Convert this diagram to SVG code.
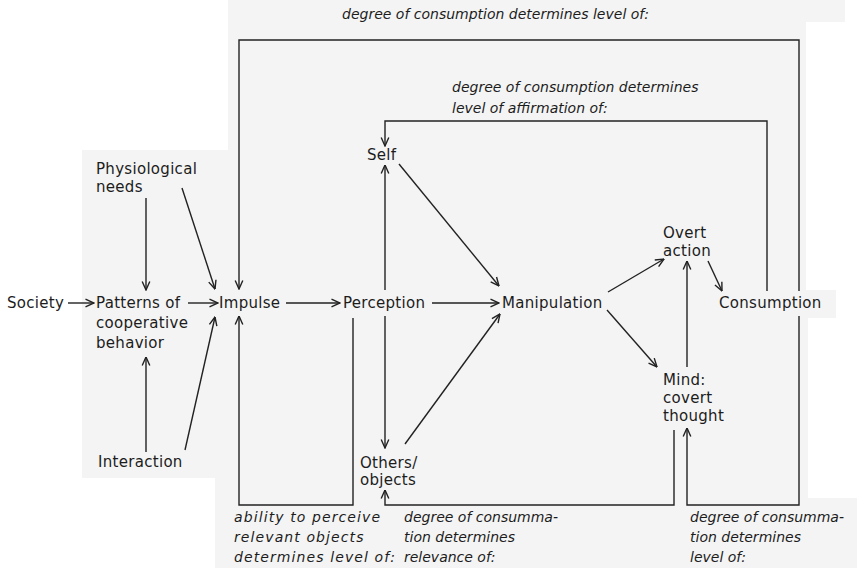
<svg xmlns="http://www.w3.org/2000/svg" width="857" height="568" viewBox="0 0 857 568">
  <defs>
    <marker id="ah" viewBox="0 0 10 10" refX="9.5" refY="5" markerWidth="10" markerHeight="10" markerUnits="userSpaceOnUse" orient="auto">
      <path d="M1,1.2 L9.5,5 L1,8.8" fill="none" stroke="#222" stroke-width="1.4"/>
    </marker>
    <style>
      .node text { font-family: "DejaVu Sans", "Liberation Sans", sans-serif; font-size: 15px; fill: #1c1c1c; letter-spacing: 0.3px; }
      .note { font-family: "DejaVu Sans", "Liberation Sans", sans-serif; font-style: italic; font-size: 14px; fill: #1c1c1c; }
      .wide { letter-spacing: 1.1px; }
      .edge { fill: none; stroke: #222; stroke-width: 1.4; }
      .arrow { marker-end: url(#ah); }
    </style>
  </defs>

  <!-- paper -->
  <rect width="857" height="568" fill="#ffffff"/>
  <path d="M228,0 H845 V22 H806 V290 H836 V318 H808 V498 H857 V568 H215 V478 H82 V150 H228 Z" fill="#f4f4f4"/>

  <!-- connectors -->
  <g id="connectors">
    <path class="edge arrow" d="M68,303 H94"/>
    <path class="edge arrow" d="M188,303 H218"/>
    <path class="edge arrow" d="M146,198 V290"/>
    <path class="edge arrow" d="M182,188 L215,289"/>
    <path class="edge arrow" d="M146,452 V357"/>
    <path class="edge arrow" d="M185,450 L215,317"/>
    <path class="edge arrow" d="M286,303 H340"/>
    <path class="edge arrow" d="M432,303 H499"/>
    <path class="edge arrow" d="M385,290 V165"/>
    <path class="edge arrow" d="M385,316 V448"/>
    <path class="edge arrow" d="M399,164 L499,286"/>
    <path class="edge arrow" d="M405,444 L500,314"/>
    <path class="edge arrow" d="M608,292 L664,259"/>
    <path class="edge arrow" d="M607,310 L657,367"/>
    <path class="edge arrow" d="M708,261 L722,291"/>
    <path class="edge arrow" d="M687,367 V261"/>
    <!-- feedback loops from consummation -->
    <path class="edge arrow" d="M799,291 V40 H239 V289"/>
    <path class="edge arrow" d="M767,291 V121 H385 V146"/>
    <path class="edge arrow" d="M353,318 V505 H239 V316"/>
    <path class="edge arrow" d="M674,430 V505 H385 V490"/>
    <path class="edge arrow" d="M799,316 V505 H687 V428"/>
  </g>

  <!-- nodes -->
  <g id="society" class="node"><text x="7" y="308">Society</text></g>
  <g id="patterns" class="node">
    <text x="96" y="308">Patterns of</text>
    <text x="96" y="328">cooperative</text>
    <text x="96" y="348">behavior</text>
  </g>
  <g id="physiological-needs" class="node">
    <text x="96" y="174">Physiological</text>
    <text x="96" y="192">needs</text>
  </g>
  <g id="interaction" class="node"><text x="98" y="467">Interaction</text></g>
  <g id="impulse" class="node"><text x="219" y="308">Impulse</text></g>
  <g id="perception" class="node"><text x="343" y="308">Perception</text></g>
  <g id="self" class="node"><text x="367" y="160">Self</text></g>
  <g id="others-objects" class="node">
    <text x="360" y="468">Others/</text>
    <text x="360" y="485">objects</text>
  </g>
  <g id="manipulation" class="node"><text x="502" y="308">Manipulation</text></g>
  <g id="overt-action" class="node">
    <text x="663" y="238">Overt</text>
    <text x="663" y="256">action</text>
  </g>
  <g id="mind" class="node">
    <text x="663" y="385">Mind:</text>
    <text x="663" y="403">covert</text>
    <text x="663" y="421">thought</text>
  </g>
  <g id="consumption" class="node"><text x="719" y="308">Consumption</text></g>

  <!-- loop annotations -->
  <g id="labels">
    <text class="note" x="342" y="19">degree of consumption determines level of:</text>
    <text class="note" x="452" y="92">degree of consumption determines</text>
    <text class="note" x="452" y="113">level of affirmation of:</text>
    <text class="note wide" x="234" y="522">ability to perceive</text>
    <text class="note wide" x="234" y="542">relevant objects</text>
    <text class="note wide" x="234" y="562">determines level of:</text>
    <text class="note" x="404" y="522">degree of consumma-</text>
    <text class="note" x="404" y="542">tion determines</text>
    <text class="note" x="404" y="562">relevance of:</text>
    <text class="note" x="690" y="522">degree of consumma-</text>
    <text class="note" x="690" y="542">tion determines</text>
    <text class="note" x="690" y="562">level of:</text>
  </g>
</svg>
